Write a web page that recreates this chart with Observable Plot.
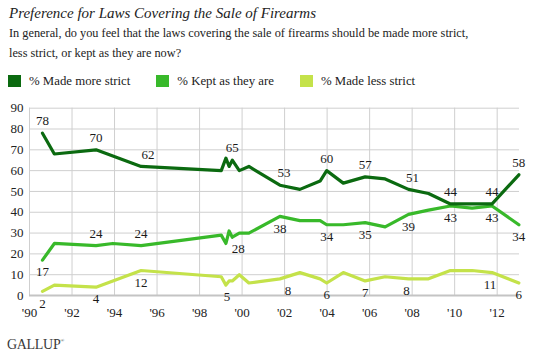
<!DOCTYPE html>
<html>
<head>
<meta charset="utf-8">
<script src="https://cdn.jsdelivr.net/npm/d3@7"></script>
<script src="https://cdn.jsdelivr.net/npm/@observablehq/plot@0.6"></script>
</head>
<body style="margin:0;background:#fff;color:#222;font-family:'Liberation Serif'">
<div id="wrap" style="position:relative;width:534px;height:361px;overflow:hidden;font-family:'Liberation Serif'">
  <div style="position:absolute;left:9px;top:5px;font-size:15px;font-style:italic;line-height:16px;white-space:nowrap;font-family:'Liberation Serif'">Preference for Laws Covering the Sale of Firearms</div>
  <div style="position:absolute;left:9px;top:24px;font-size:12.3px;line-height:19.5px;width:525px;white-space:nowrap;font-family:'Liberation Serif'">In general, do you feel that the laws covering the sale of firearms should be made more strict,<br>less strict, or kept as they are now?</div>
  <div id="legend" style="position:absolute;left:8px;top:74px;display:flex;font-size:12.8px;line-height:14px"></div>
  <div id="chart" style="position:absolute;left:0;top:95px"></div>
  <div style="position:absolute;left:7px;top:337px;font-size:14px;color:#3a3a3a;letter-spacing:-0.3px;font-family:'Liberation Serif'">GALLUP<sup style="font-size:5px;vertical-align:7px">®</sup></div>
</div>
<script>
// ---- data ----
const years  = [1990.61, 1991.17, 1993.13, 1993.92, 1995.25, 1999.02, 1999.24, 1999.39, 1999.54, 1999.87, 2000.32,
                2001.78, 2002.72, 2003.67, 2003.98, 2004.76, 2005.79, 2006.73, 2007.83, 2008.77, 2009.80, 2010.82, 2011.76, 2013.02];
const strict = [78, 68, 70, 67, 62, 60, 66, 62, 65, 60, 62, 53, 51, 55, 60, 54, 57, 56, 51, 49, 44, 44, 44, 58];
const kept   = [17, 25, 24, 25, 24, 29, 25, 31, 28, 30, 30, 38, 36, 36, 34, 34, 35, 33, 39, 41, 43, 42, 43, 34];
const less   = [2, 5, 4, 7, 12, 9, 5, 7, 7, 10, 6, 8, 11, 8, 6, 11, 7, 9, 8, 8, 12, 12, 11, 6];
const seriesNames = ["% Made more strict", "% Kept as they are", "% Made less strict"];
const xTicks = [1990, 1992, 1994, 1996, 1998, 2000, 2002, 2004, 2006, 2008, 2010, 2012];
const yTicks = [0, 10, 20, 30, 40, 50, 60, 70, 80, 90];
// indices of labelled points
const strictLabels = [0, 2, 4, 8, 11, 14, 16, 18, 20, 22, 23];
const keptLabels   = [0, 2, 4, 8, 11, 14, 16, 18, 20, 22, 23];
const lessLabels   = [0, 2, 4, 6, 11, 14, 16, 18, 22, 23];

// ---- styling ----
const colors = ["#0b6a10", "#38b92a", "#c4e24a"];
const keptAbove = new Set([2, 4]);
const nudge = {strict: {4: 7, 11: 4, 18: 4}, kept: {8: 6}, less: {6: 1, 11: 8, 18: -2, 22: -2}};

const legend = document.getElementById("legend");
seriesNames.forEach((n, i) => {
  const it = document.createElement("div");
  it.setAttribute("style", "display:flex;align-items:center;margin-right:26px");
  const sw = document.createElement("div");
  sw.setAttribute("style", `width:13px;height:12px;margin-right:8px;background:${colors[i]}`);
  const sp = document.createElement("span"); sp.textContent = n;
  sp.setAttribute("style", "font-family:'Liberation Serif'");
  it.appendChild(sw); it.appendChild(sp);
  legend.appendChild(it);
});

const mk = (vals, name) => years.map((x, i) => ({x, v: vals[i], i, name}));
const dS = mk(strict, "strict"), dK = mk(kept, "kept"), dL = mk(less, "less");

function labels(data, idx, key, above) {
  const rows = idx.map(i => data[i]);
  const up = rows.filter(d => above(d.i)), down = rows.filter(d => !above(d.i));
  const mark = (arr, dy) => Plot.text(arr, {
    x: d => d.x + (nudge[key][d.i] || 0) / 21.2, y: "v", text: d => String(d.v),
    dy, fill: "#1a1a1a", fontSize: 13, fontFamily: "Liberation Serif"
  });
  return [mark(up, -12), mark(down, 12)];
}

const chart = Plot.plot({
  width: 534, height: 230,
  marginTop: 12.7, marginBottom: 30, marginLeft: 29, marginRight: 15,
  style: {fontSize: "13px", color: "#222", background: "transparent", fontFamily: "Liberation Serif"},
  x: {domain: [1990, 2013.05], label: null},
  y: {domain: [0, 90], label: null},
  marks: [
    Plot.gridX(xTicks, {stroke: "#cfcfcf", strokeOpacity: 1}),
    Plot.gridY(yTicks.slice(1), {stroke: "#cfcfcf", strokeOpacity: 1}),
    Plot.ruleY([0], {stroke: "#c4c4c4", strokeWidth: 2}),
    Plot.axisX(xTicks, {tickSize: 0, tickPadding: 12, tickFormat: d => "'" + String(d).slice(2), fontSize: 13, fontFamily: "Liberation Serif"}),
    Plot.axisY(yTicks, {tickSize: 0, tickPadding: 6, fontSize: 13, fontFamily: "Liberation Serif"}),
    Plot.line(dL, {x: "x", y: "v", stroke: colors[2], strokeWidth: 3.2}),
    Plot.line(dK, {x: "x", y: "v", stroke: colors[1], strokeWidth: 3.2}),
    Plot.line(dS, {x: "x", y: "v", stroke: colors[0], strokeWidth: 3.2}),
    ...labels(dS, strictLabels, "strict", () => true),
    ...labels(dK, keptLabels, "kept", i => keptAbove.has(i)),
    ...labels(dL, lessLabels, "less", () => false)
  ]
});
document.getElementById("chart").appendChild(chart);
</script>
</body>
</html>
